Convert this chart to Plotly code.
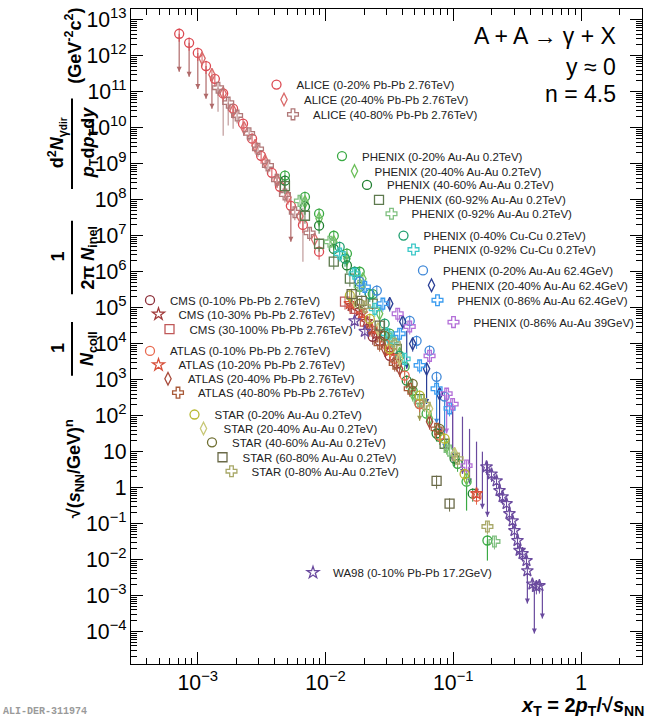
import plotly.graph_objects as go

# ---------------- data ----------------
alice_0_20_x = [7.15e-4, 8.55e-4, 1.0e-3, 1.16e-3, 1.36e-3, 1.58e-3, 1.89e-3, 2.26e-3, 2.66e-3, 3.13e-3, 3.8e-3, 4.4e-3, 5.35e-3, 6.65e-3, 8.9e-3]
alice_0_20_y = [4.1e12, 2.3e12, 1.2e12, 5.2e11, 2.3e11, 9.0e10, 3.4e10, 1.3e10, 5.0e9, 1.66e9, 5.6e8, 2.3e8, 6.8e7, 2.0e7, 3.6e6]
alice_20_40_x = [1.08e-3, 1.29e-3, 1.58e-3, 1.89e-3, 2.3e-3, 2.81e-3, 3.36e-3, 4.17e-3, 5.07e-3, 6.3e-3, 8.2e-3]
alice_20_40_y = [8.5e11, 3.0e11, 9.0e10, 3.0e10, 1.0e10, 3.2e9, 1.2e9, 3.5e8, 1.2e8, 3.5e7, 8.0e6]
alice_40_80_x = [1.44e-3, 1.73e-3, 2.03e-3, 2.52e-3, 2.96e-3, 3.54e-3, 4.17e-3, 4.81e-3, 5.75e-3, 7.5e-3]
alice_40_80_y = [1.3e11, 5.0e10, 2.2e10, 7.0e9, 2.6e9, 9.0e8, 3.6e8, 1.4e8, 4.5e7, 1.2e7]

phenix200_0_20_x = [4.81e-3, 6.9e-3, 8.9e-3, 0.0116, 0.0147, 0.0185, 0.0234, 0.0318, 0.0416, 0.0481, 0.0618, 0.0781, 0.108, 0.127, 0.185]
phenix200_0_20_y = [4.7e8, 1.2e8, 4.1e7, 1.0e7, 3.2e6, 1.0e6, 2.4e5, 1.9e4, 2.3e3, 4.9e2, 1.14e2, 26, 4.6, 1.47, 0.034]
phenix200_20_40_x = [6.9e-3, 8.9e-3, 0.0116, 0.0147, 0.0196, 0.0265, 0.038, 0.0481, 0.0652, 0.0887, 0.127]
phenix200_20_40_y = [8.7e7, 3.0e7, 6.8e6, 2.3e6, 6.4e5, 6.8e4, 5.3e3, 4.1e2, 83, 13.8, 1.8]
phenix200_40_60_x = [4.81e-3, 6.9e-3, 8.9e-3, 0.0116, 0.0147, 0.0185, 0.029, 0.0432, 0.0545, 0.074, 0.1024, 0.142]
phenix200_40_60_y = [3.4e8, 6.4e7, 1.9e7, 4.3e6, 1.5e6, 3.8e5, 1.9e4, 9.4e2, 2.1e2, 32, 6.4, 0.68]
phenix200_60_92_x = [4.81e-3, 6.9e-3, 8.9e-3, 0.0116, 0.0155, 0.0234, 0.0361, 0.0545, 0.0855]
phenix200_60_92_y = [2.4e8, 3.6e7, 6.0e6, 1.9e6, 6.4e5, 1.3e5, 7.2e3, 2.9e2, 16.6]
phenix200_0_92_x = [6.3e-3, 0.0108, 0.0185, 0.0318, 0.0545, 0.0935, 0.210]
phenix200_0_92_y = [9.3e7, 6.8e6, 4.1e5, 1.38e4, 2.5e2, 10.7, 0.032]
phenix_cucu_0_40_x = [0.0129, 0.0142, 0.0169, 0.0222, 0.029, 0.038]
phenix_cucu_0_40_y = [4.9e6, 2.3e6, 1.0e6, 2.4e5, 3.6e4, 4.6e3]
phenix_cucu_0_92_x = [0.0129, 0.0169, 0.0243, 0.0301, 0.0336, 0.0416]
phenix_cucu_0_92_y = [3.2e6, 8.8e5, 9.3e4, 1.9e4, 1.2e4, 3.8e3]
phenix62_0_20_x = [0.0185, 0.0252, 0.0456, 0.0516, 0.0652, 0.074, 0.0855]
phenix62_0_20_y = [5.3e5, 3.0e5, 4.3e4, 1.2e4, 6.4e3, 1.2e3, 3.4e2]
phenix62_20_40_x = [0.0318, 0.0402, 0.0481, 0.0618, 0.0781]
phenix62_20_40_y = [1.3e5, 4.1e4, 1.0e4, 2.0e3, 4.1e2]
phenix62_0_86_x = [0.0203, 0.0281, 0.038, 0.0545, 0.074, 0.0935]
phenix62_0_86_y = [3.8e5, 1.3e5, 1.9e4, 2.5e3, 5.6e2, 1.6e2]
phenix39_0_86_x = [0.0367, 0.0456, 0.0652, 0.0887, 0.0988, 0.127]
phenix39_0_86_y = [6.8e4, 3.0e4, 4.6e3, 4.1e2, 2.1e2, 4.1]

cms_0_10_x = [0.0234, 0.0265, 0.0318, 0.0361]
cms_0_10_y = [1.56e4, 1.2e4, 4.6e3, 2.8e3]
cms_10_30_x = [0.016, 0.0185, 0.021, 0.0252]
cms_10_30_y = [1.14e5, 8.3e4, 4.1e4, 1.9e4]
cms_30_100_x = [0.0142, 0.0169, 0.0203]
cms_30_100_y = [1.47e5, 9.3e4, 4.1e4]
atlas_0_10_x = [0.029, 0.0348, 0.0416, 0.0545, 0.0781, 0.152]
atlas_0_10_y = [1.0e4, 3.8e3, 1.3e3, 2.1e2, 28, 0.56]
atlas_10_20_x = [0.0155, 0.0192, 0.023, 0.0318, 0.152]
atlas_10_20_y = [1.3e5, 6.8e4, 2.6e4, 6.4e3, 0.68]
atlas_20_40_x = [0.0222, 0.029, 0.038, 0.0652]
atlas_20_40_y = [2.6e4, 7.2e3, 2.0e3, 68]
atlas_40_80_x = [0.0265, 0.0348, 0.0456, 0.074]
atlas_40_80_y = [1.0e4, 2.8e3, 5.6e2, 43]

star_0_20_x = [0.0155, 0.0222, 0.0318, 0.0545, 0.0855, 0.1226]
star_0_20_y = [2.2e5, 4.9e4, 7.2e3, 3.6e2, 23, 2.4]
star_20_40_x = [0.0169, 0.0257, 0.038, 0.0652, 0.1024]
star_20_40_y = [1.56e5, 2.6e4, 3.8e3, 1.56e2, 8.8]
star_40_60_x = [0.0185, 0.029, 0.0481, 0.0781]
star_40_60_y = [1.3e5, 1.66e4, 7.7e2, 43]
star_60_80_x = [0.016, 0.0192, 0.0265, 0.074, 0.0935]
star_60_80_y = [2.4e5, 1.56e5, 3.2e4, 1.55, 0.36]
star_0_80_x = [0.0203, 0.0348, 0.0597, 0.108, 0.185]
star_0_80_y = [1.07e5, 1.0e4, 2.1e2, 6.4, 0.083]

wa98_x = [0.0169, 0.0203, 0.182, 0.199, 0.218, 0.230, 0.243, 0.261, 0.275, 0.291, 0.301, 0.318, 0.330, 0.348, 0.374, 0.380, 0.416, 0.447, 0.472]
wa98_y = [4.3e4, 2.2e4, 3.8, 2.4, 1.55, 0.83, 0.56, 0.36, 0.19, 0.12, 0.064, 0.034, 0.018, 0.0147, 9.4e-3, 4.9e-3, 2.1e-3, 1.8e-3, 1.9e-3]

# upper limits (value -> arrow tip)
alice_ul_x = [7.15e-4, 8.55e-4, 1.0e-3, 1.16e-3, 1.29e-3, 5.35e-3]
alice_ul_top = [4.1e12, 2.3e12, 1.2e12, 5.2e11, 2.8e11, 1.2e8]
alice_ul_tip = [3.6e11, 2.6e11, 1.2e11, 6.4e10, 3.4e10, 6.8e6]
phenix62_0_20_ul_x = [0.074, 0.0855]
phenix62_0_20_ul_top = [1.2e3, 3.4e2]
phenix62_0_20_ul_tip = [60, 12]
phenix62_20_40_ul_x = [0.0432, 0.0618, 0.0781]
phenix62_20_40_ul_top = [2.3e4, 2.0e3, 4.1e2]
phenix62_20_40_ul_tip = [2.0e3, 2.1e2, 32]
phenix39_ul_x = [0.0887, 0.0988]
phenix39_ul_top = [4.1e2, 2.1e2]
phenix39_ul_tip = [32, 6.4]
star_ul_x = [0.0545]
star_ul_top = [3.0e2]
star_ul_tip = [72]
wa98_ul_x = [0.0988, 0.118, 0.134, 0.152, 0.169, 0.185, 0.38, 0.431, 0.498]
wa98_ul_top = [2.1e2, 94, 43, 19, 10, 5.3, 4.1e-3, 1.38e-3, 1.6e-3]
wa98_ul_tip = [5.3, 2.4, 1.3, 0.68, 0.26, 0.155, 6.0e-4, 8.8e-5, 2.3e-4]

# large error bars (value -> lower end)
alice_40_80_err_x = [1.44e-3, 1.58e-3, 1.73e-3, 1.89e-3, 6.65e-3]
alice_40_80_err_top = [1.3e11, 8.8e10, 5.0e10, 3.4e10, 6.0e7]
alice_40_80_err_bot = [2.8e10, 6.0e9, 1.15e10, 9.4e9, 1.9e6]
phenix200_err_x = [0.127, 0.185]
phenix200_err_top = [1.47, 0.034]
phenix200_err_bot = [0.23, 9.4e-3]

# ---------------- styling ----------------
W, H = 652, 718
L, R, T, B = 131, 642, 5, 664


def pxx(px):
    return (px - L) / (R - L)


def pxy(py):
    return 1 - (py - T) / (B - T)


series = [
    ("ALICE (0-20% Pb-Pb 2.76TeV)", alice_0_20_x, alice_0_20_y, "circle-open", "#dc4a52", 9, (282, 291, 83)),
    ("ALICE (20-40% Pb-Pb 2.76TeV)", alice_20_40_x, alice_20_40_y, "diamond-tall-open", "#d96a6a", 9, (288, 300, 98)),
    ("ALICE (40-80% Pb-Pb 2.76TeV)", alice_40_80_x, alice_40_80_y, "cross-open", "#b07878", 9, (297, 309, 113)),
    ("PHENIX (0-20% Au-Au 0.2TeV)", phenix200_0_20_x, phenix200_0_20_y, "circle-open", "#3aaa44", 9, (347, 357, 155)),
    ("PHENIX (20-40% Au-Au 0.2TeV)", phenix200_20_40_x, phenix200_20_40_y, "diamond-tall-open", "#6cbf5a", 9, (360, 369, 170)),
    ("PHENIX (40-60% Au-Au 0.2TeV)", phenix200_40_60_x, phenix200_40_60_y, "circle-open", "#1f7f30", 9, (372, 382, 184)),
    ("PHENIX (60-92% Au-Au 0.2TeV)", phenix200_60_92_x, phenix200_60_92_y, "square-open", "#5e7a4e", 9, (384, 394, 199)),
    ("PHENIX (0-92% Au-Au 0.2TeV)", phenix200_0_92_x, phenix200_0_92_y, "cross-open", "#80c080", 9, (397, 406, 213)),
    ("PHENIX (0-40% Cu-Cu 0.2TeV)", phenix_cucu_0_40_x, phenix_cucu_0_40_y, "circle-open", "#1e9e6e", 9, (408, 419, 235)),
    ("PHENIX (0-92% Cu-Cu 0.2TeV)", phenix_cucu_0_92_x, phenix_cucu_0_92_y, "cross-open", "#3cc8c8", 9, (418, 429, 249)),
    ("PHENIX (0-20% Au-Au 62.4GeV)", phenix62_0_20_x, phenix62_0_20_y, "circle-open", "#3f88d8", 9, (428, 438, 270)),
    ("PHENIX (20-40% Au-Au 62.4GeV)", phenix62_20_40_x, phenix62_20_40_y, "diamond-tall-open", "#2a3f96", 9, (437, 446, 285)),
    ("PHENIX (0-86% Au-Au 62.4GeV)", phenix62_0_86_x, phenix62_0_86_y, "cross-open", "#3a9cf0", 9, (443, 452, 300)),
    ("PHENIX (0-86% Au-Au 39GeV)", phenix39_0_86_x, phenix39_0_86_y, "cross-open", "#b36fd8", 9, (459, 468, 322)),
    ("CMS (0-10% Pb-Pb 2.76TeV)", cms_0_10_x, cms_0_10_y, "circle-open", "#8c2f39", 9, (155, 165, 300)),
    ("CMS (10-30% Pb-Pb 2.76TeV)", cms_10_30_x, cms_10_30_y, "star-open", "#a03a3a", 9, (163, 174, 314)),
    ("CMS (30-100% Pb-Pb 2.76TeV)", cms_30_100_x, cms_30_100_y, "square-open", "#c05858", 9, (175, 184, 329)),
    ("ATLAS (0-10% Pb-Pb 2.76TeV)", atlas_0_10_x, atlas_0_10_y, "circle-open", "#e86a50", 9, (155, 165, 351)),
    ("ATLAS (10-20% Pb-Pb 2.76TeV)", atlas_10_20_x, atlas_10_20_y, "star-open", "#d8503a", 9, (163, 174, 365)),
    ("ATLAS (20-40% Pb-Pb 2.76TeV)", atlas_20_40_x, atlas_20_40_y, "diamond-tall-open", "#a84a3a", 9, (173, 183, 379)),
    ("ATLAS (40-80% Pb-Pb 2.76TeV)", atlas_40_80_x, atlas_40_80_y, "cross-open", "#a85a38", 9, (183, 193, 393)),
    ("STAR (0-20% Au-Au 0.2TeV)", star_0_20_x, star_0_20_y, "circle-open", "#b8b830", 9, (200, 209, 415)),
    ("STAR (20-40% Au-Au 0.2TeV)", star_20_40_x, star_20_40_y, "diamond-tall-open", "#c8c878", 9, (209, 218, 429)),
    ("STAR (40-60% Au-Au 0.2TeV)", star_40_60_x, star_40_60_y, "circle-open", "#6e6e30", 9, (217, 227, 443)),
    ("STAR (60-80% Au-Au 0.2TeV)", star_60_80_x, star_60_80_y, "square-open", "#6a6a48", 9, (228, 237, 458)),
    ("STAR (0-80% Au-Au 0.2TeV)", star_0_80_x, star_0_80_y, "cross-open", "#a8a868", 9, (236, 247, 472)),
    ("WA98 (0-10% Pb-Pb 17.2GeV)", wa98_x, wa98_y, "star-open", "#6a4a9e", 9, (318, 328, 574)),
]

upper_limits = [
    (alice_ul_x, alice_ul_top, alice_ul_tip, "#b06a6a", True),
    (alice_40_80_err_x, alice_40_80_err_top, alice_40_80_err_bot, "#c09a9a", False),
    (phenix200_err_x, phenix200_err_top, phenix200_err_bot, "#3aaa44", False),
    (phenix62_0_20_ul_x, phenix62_0_20_ul_top, phenix62_0_20_ul_tip, "#3f88d8", True),
    (phenix62_20_40_ul_x, phenix62_20_40_ul_top, phenix62_20_40_ul_tip, "#2a3f96", True),
    (phenix39_ul_x, phenix39_ul_top, phenix39_ul_tip, "#b36fd8", True),
    (star_ul_x, star_ul_top, star_ul_tip, "#9a9a50", True),
    (wa98_ul_x, wa98_ul_top, wa98_ul_tip, "#6a4a9e", True),
]

fig = go.Figure()

for ux, top, tip, col, head in upper_limits:
    fig.add_trace(go.Scatter(
        x=ux, y=top, mode="markers", showlegend=False, hoverinfo="skip",
        marker=dict(size=1, opacity=0, color=col),
        error_y=dict(type="data", symmetric=False, array=[0] * len(ux),
                     arrayminus=[t - b for t, b in zip(top, tip)],
                     color=col, thickness=1.2, width=0)))
    if head:
        fig.add_trace(go.Scatter(
            x=ux, y=tip, mode="markers", showlegend=False, hoverinfo="skip",
            marker=dict(symbol="arrow-down", size=5, color=col, line=dict(width=0))))

layout_legends = {}
for i, (name, xs, ys, sym, col, sz, (sx, tx, ly)) in enumerate(series):
    key = "legend" if i == 0 else f"legend{i + 1}"
    fig.add_trace(go.Scatter(
        x=xs, y=ys, mode="markers", name=name, legend=key,
        marker=dict(symbol=sym, size=sz, color=col, line=dict(width=1.3, color=col)),
        error_y=dict(type="percent", value=40, color=col, thickness=1, width=0)))
    mid = (sx + tx) / 2.0
    layout_legends[key] = dict(
        x=pxx(mid - 30), y=pxy(ly - 2), xanchor="left", yanchor="middle",
        bgcolor="rgba(0,0,0,0)", borderwidth=0,
        font=dict(family="Liberation Sans, Arial", size=11.5, color="#222"),
        itemwidth=30, tracegroupgap=0)

axis_common = dict(
    type="log", showline=True, linecolor="black", linewidth=1, mirror="allticks",
    ticks="inside", ticklen=12, tickcolor="black", tickwidth=1,
    showgrid=False, zeroline=False, exponentformat="power",
    tickmode="linear", tick0=0, dtick=1,
    tickfont=dict(family="Liberation Sans, Arial", size=17, color="black"),
    minor=dict(ticks="inside", ticklen=6, tickcolor="black", dtick="D1", showgrid=False),
)

fig.update_layout(
    width=W, height=H,
    margin=dict(l=L, r=W - R, t=T, b=H - B),
    paper_bgcolor="white", plot_bgcolor="white",
    font=dict(family="Liberation Sans, Arial", color="black"),
    xaxis=dict(range=[-3.5229, 0.4771], **axis_common),
    yaxis=dict(range=[-4.9, 13.301], **axis_common),
    **layout_legends,
)

# ---- text annotations ----
ann = []
bold = dict(family="Liberation Sans, Arial", size=18, color="black")
small = "<span style='font-size:10px'>dir</span>"
for txt, px, py in [
    ("(GeV<sup>-2</sup>c<sup>2</sup>)", 74, 42),
    (f"d<sup>2</sup><i>N</i><sub>γ{small}</sub>", 57, 140),
    ("<i>p</i><sub>T</sub>d<i>p</i><sub>T</sub>d<i>y</i>", 89, 140),
    ("1", 58, 254),
    ("2π <i>N</i><sub>inel</sub>", 89, 255),
    ("1", 58, 346),
    ("<i>N</i><sub>coll</sub>", 89, 347),
    ("√(<i>s</i><sub>NN</sub>/GeV)<sup>n</sup>", 74, 468),
]:
    ann.append(dict(text=f"<b>{txt}</b>", x=pxx(px), y=pxy(py), xref="paper", yref="paper",
                    showarrow=False, textangle=-90, font=bold, xanchor="center", yanchor="middle"))

for txt, py in [("A + A → γ + X", 32), ("y ≈ 0", 63), ("n = 4.5", 91)]:
    ann.append(dict(text=txt, x=pxx(618), y=pxy(py), xref="paper", yref="paper", showarrow=False,
                    xanchor="right", yanchor="middle",
                    font=dict(family="Liberation Sans, Arial", size=23, color="black")))

ann.append(dict(text="<b><i>x</i><sub>T</sub> = 2<i>p</i><sub>T</sub>/√<i>s</i><sub>NN</sub></b>",
                x=pxx(646), y=pxy(707), xref="paper", yref="paper", showarrow=False,
                xanchor="right", yanchor="middle",
                font=dict(family="Liberation Sans, Arial", size=20, color="black")))
ann.append(dict(text="<b>ALI-DER-311974</b>", x=pxx(1), y=pxy(712), xref="paper", yref="paper",
                showarrow=False, xanchor="left", yanchor="middle",
                font=dict(family="Liberation Mono, DejaVu Sans Mono", size=10, color="#9a9a9a")))

shapes = []
for py0, py1 in [(95, 186), (218, 292), (320, 374)]:
    shapes.append(dict(type="line", xref="paper", yref="paper", x0=pxx(72), x1=pxx(72),
                       y0=pxy(py0), y1=pxy(py1), line=dict(color="black", width=2)))

fig.update_layout(annotations=ann, shapes=shapes)

fig.write_html("out.html")
